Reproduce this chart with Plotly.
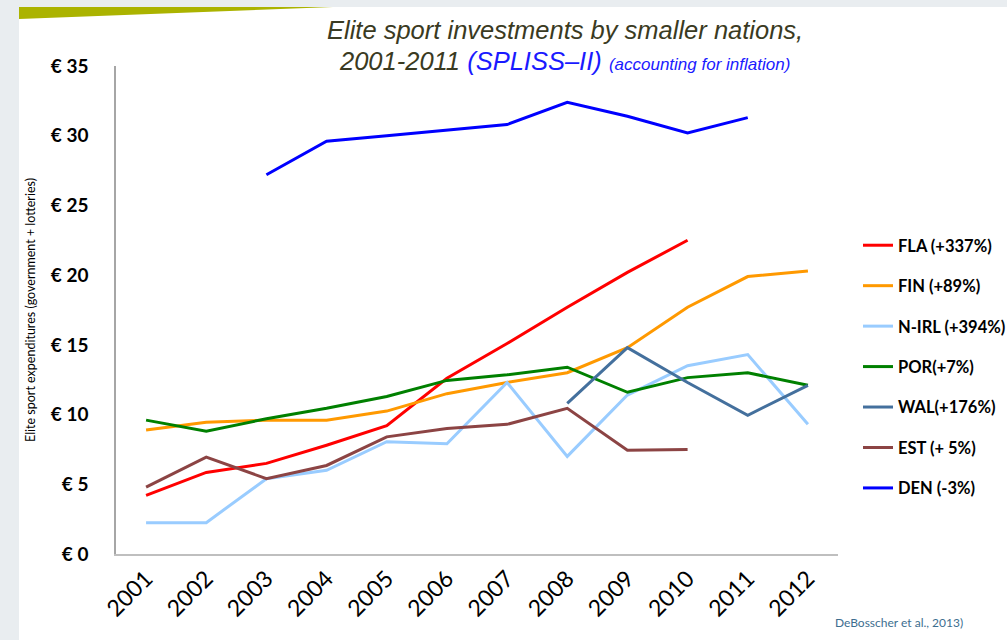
import plotly.graph_objects as go

years = ["2001", "2002", "2003", "2004", "2005", "2006", "2007", "2008", "2009", "2010", "2011", "2012"]

fla = [4.2, 5.85, 6.5, 7.8, 9.2, 12.6, 15.1, 17.7, 20.2, 22.5, None, None]
fin = [8.9, 9.45, 9.6, 9.6, 10.25, 11.5, 12.3, 13.0, 14.8, 17.7, 19.9, 20.3]
nirl = [2.25, 2.25, 5.4, 6.0, 8.05, 7.9, 12.3, 7.0, 11.4, 13.5, 14.3, 9.3]
por = [9.6, 8.8, 9.7, 10.45, 11.3, 12.45, 12.85, 13.4, 11.6, 12.65, 13.0, 12.1]
wal = [None, None, None, None, None, None, None, 10.8, 14.8, 12.3, 9.95, 12.1]
est = [4.8, 6.95, 5.4, 6.35, 8.4, 9.0, 9.3, 10.45, 7.45, 7.5, None, None]
den = [None, None, 27.2, 29.6, 30.0, 30.4, 30.8, 32.4, 31.4, 30.2, 31.3, None]

series_names = ["FLA (+337%)", "FIN (+89%)", "N-IRL (+394%)", "POR(+7%)", "WAL(+176%)", "EST (+ 5%)", "DEN (-3%)"]
series_values = [fla, fin, nirl, por, wal, est, den]
series_colors = ["#ff0000", "#ff9900", "#99ccff", "#008000", "#44709d", "#8c4444", "#0000ff"]

y_tickvals = [0, 5, 10, 15, 20, 25, 30, 35]
y_ticktext = ["€ 0", "€ 5", "€ 10", "€ 15", "€ 20", "€ 25", "€ 30", "€ 35"]

W, H = 1007, 640
L, R, T, B = 116, 838, 66, 554


def px_x(p):
    return (p - L) / (R - L)


def px_y(p):
    return (B - p) / (B - T)


fig = go.Figure()
for i, (name, vals, col) in enumerate(zip(series_names, series_values, series_colors)):
    fig.add_trace(go.Scatter(
        x=years, y=vals, name=name, mode="lines",
        line=dict(color=col, width=3), connectgaps=False,
        legendgroup=str(i),
    ))

fig.update_layout(
    width=W, height=H,
    margin=dict(l=L, r=W - R, t=T, b=H - B, pad=0, autoexpand=False),
    paper_bgcolor="#e9edf0",
    plot_bgcolor="white",
    showlegend=True,
    legend=dict(
        x=px_x(858), y=px_y(228), xanchor="left", yanchor="top",
        font=dict(family="Lato", size=16.5, color="#000000", weight="bold"),
        bgcolor="rgba(0,0,0,0)", tracegroupgap=16, traceorder="grouped",
        itemwidth=30,
    ),
    xaxis=dict(
        type="category", range=[-0.5, 11.5], showgrid=False, showline=True,
        linecolor="#bfbfbf", linewidth=2,
        tickangle=-45, tickfont=dict(family="Lato", size=23, color="#000000"),
        ticks="", zeroline=False, fixedrange=True,
    ),
    yaxis=dict(
        range=[0, 35], showgrid=False, showline=True, linecolor="#a6a6a6", linewidth=1.5,
        tickvals=y_tickvals, ticktext=y_ticktext, ticks="",
        tickfont=dict(family="Lato", size=19, color="#000000", weight="bold"),
        ticklabelstandoff=22, zeroline=False, fixedrange=True,
    ),
    shapes=[
        dict(type="rect", xref="paper", yref="paper", layer="below",
             x0=px_x(19), x1=px_x(W + 5), y0=px_y(H + 5), y1=px_y(7),
             fillcolor="white", line=dict(width=0)),
        dict(type="path", xref="paper", yref="paper", layer="below",
             path=f"M {px_x(19)} {px_y(7)} L {px_x(333)} {px_y(7)} L {px_x(19)} {px_y(19)} Z",
             fillcolor="#abb300", line=dict(width=0)),
    ],
    annotations=[
        dict(text="<i>Elite sport investments by smaller nations,</i>",
             xref="paper", yref="paper", x=px_x(565), y=px_y(30), xanchor="center", yanchor="middle",
             showarrow=False, font=dict(family="Liberation Sans", size=25.5, color="#3a3a22")),
        dict(text="<i>2001-2011 <span style='color:#1a1aff'>(SPLISS–II)</span> "
                  "<span style='color:#1a1aff;font-size:17px'>(accounting for inflation)</span></i>",
             xref="paper", yref="paper", x=px_x(564), y=px_y(61), xanchor="center", yanchor="middle",
             showarrow=False, font=dict(family="Liberation Sans", size=25.5, color="#3a3a22")),
        dict(text="Elite sport expenditures (government + lotteries)",
             xref="paper", yref="paper", x=px_x(30), y=px_y(310), xanchor="center", yanchor="middle",
             textangle=-90, showarrow=False, font=dict(family="Lato", size=12.5, color="#000000")),
        dict(text="DeBosscher et al., 2013)",
             xref="paper", yref="paper", x=px_x(833), y=px_y(622), xanchor="left", yanchor="middle",
             showarrow=False, font=dict(family="Lato", size=12, color="#3d6e8f")),
    ],
)

fig.write_html("out.html", config={"displayModeBar": False},
               post_script="document.body.style.margin='0';")
